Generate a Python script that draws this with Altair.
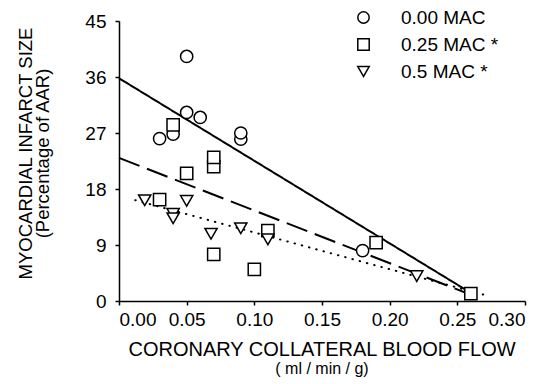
import altair as alt
import pandas as pd

FONT = "Liberation Sans"

series_names = ["0.00 MAC", "0.25 MAC *", "0.5 MAC *"]

mac0_x = [0.03, 0.04, 0.05, 0.05, 0.06, 0.09, 0.09, 0.18]
mac0_y = [26.1, 26.8, 30.3, 39.3, 29.5, 26.0, 27.0, 8.1]
mac25_x = [0.03, 0.04, 0.05, 0.07, 0.07, 0.07, 0.10, 0.11, 0.19, 0.26]
mac25_y = [16.3, 28.3, 20.5, 21.6, 23.1, 7.5, 5.1, 11.3, 9.4, 1.2]
mac5_x = [0.019, 0.04, 0.04, 0.05, 0.068, 0.09, 0.11, 0.22]
mac5_y = [16.2, 14.0, 13.3, 16.1, 10.8, 11.7, 9.9, 4.0]

# regression line end points
line_x0 = [0.0, 0.0, 0.012]
line_y0 = [35.8, 23.0, 16.2]
line_x1 = [0.26, 0.26, 0.273]
line_y1 = [1.3, 1.0, 0.8]

x_ticks = [0.0, 0.05, 0.10, 0.15, 0.20, 0.25, 0.30]
y_ticks = [0, 9, 18, 27, 36, 45]

rows = []
for name, xs, ys in zip(series_names, [mac0_x, mac25_x, mac5_x], [mac0_y, mac25_y, mac5_y]):
    for i, (a, b) in enumerate(zip(xs, ys)):
        rows.append({"series": name, "x": a, "y": b, "order": len(rows)})
pts = pd.DataFrame(rows)

lines = pd.DataFrame({"series": series_names, "x0": line_x0, "y0": line_y0,
                      "x1": line_x1, "y1": line_y1})

xscale = alt.Scale(domain=[0, 0.30], nice=False)
yscale = alt.Scale(domain=[0, 45], nice=False)

xaxis = alt.Axis(values=x_ticks, format=".2f", title=None)
yaxis = alt.Axis(values=y_ticks, title=["MYOCARDIAL INFARCT SIZE", "(Percentage of AAR)"],
                 titleFontSize=18.5, titleLineHeight=17, titleFont=FONT, titleFontWeight="normal",
                 titleColor="black", titleX=-88, titleY=132, titleBaseline="alphabetic",
                 titleAlign="center", titleAngle=270)

dashes = [[1, 0], [22, 8], [0.5, 7]]
caps = ["butt", "butt", "round"]
widths = [2, 2, 2]
line_layers = []
for i, name in enumerate(series_names):
    line_layers.append(
        alt.Chart(lines[lines["series"] == name]).mark_rule(
            color="black", strokeWidth=widths[i], strokeDash=dashes[i], strokeCap=caps[i]
        ).encode(
            x=alt.X("x0:Q", scale=xscale, axis=xaxis),
            y=alt.Y("y0:Q", scale=yscale, axis=yaxis),
            x2="x1:Q", y2="y1:Q",
        )
    )

legend = alt.Legend(title=None, orient="none", legendX=235, legendY=-13,
                    labelFontSize=19, labelFont=FONT, labelColor="black",
                    symbolSize=130, symbolStrokeWidth=1.5, symbolOpacity=1,
                    symbolFillColor="white",
                    labelOffset=28, rowPadding=7, padding=0)

points = alt.Chart(pts).mark_point(
    filled=False, strokeWidth=1.5, size=150, opacity=1
).encode(
    x=alt.X("x:Q", scale=xscale, axis=xaxis),
    y=alt.Y("y:Q", scale=yscale, axis=yaxis),
    shape=alt.Shape("series:N",
                    scale=alt.Scale(domain=series_names, range=["circle", "square", "triangle-down"]),
                    legend=legend),
    color=alt.Color("series:N",
                    scale=alt.Scale(domain=series_names, range=["black", "black", "black"]),
                    legend=legend),
    fill=alt.value("white"),
    order="order:Q",
)

chart = alt.layer(*line_layers, points).properties(
    width=406, height=280,
    padding={"left": 111, "top": 13, "right": 5, "bottom": 80},
    autosize=alt.AutoSizeParams(type="none"),
    title=alt.TitleParams(text="CORONARY COLLATERAL BLOOD FLOW", subtitle="( ml / min / g)",
                          orient="bottom", anchor="middle", fontSize=20, subtitleFontSize=16,
                          font=FONT, subtitleFont=FONT, fontWeight="normal", color="black",
                          subtitleColor="black", offset=11, subtitlePadding=1),
).configure_view(stroke=None).configure_axis(
    grid=False, domainColor="black", domainWidth=1.5, tickColor="black", tickWidth=1.5,
    tickSize=4, labelFont=FONT, labelFontSize=19, labelColor="black", labelPadding=5
).configure_axisY(labelPadding=9)

chart.save("out.html", embed_options={"renderer": "svg", "actions": False})
